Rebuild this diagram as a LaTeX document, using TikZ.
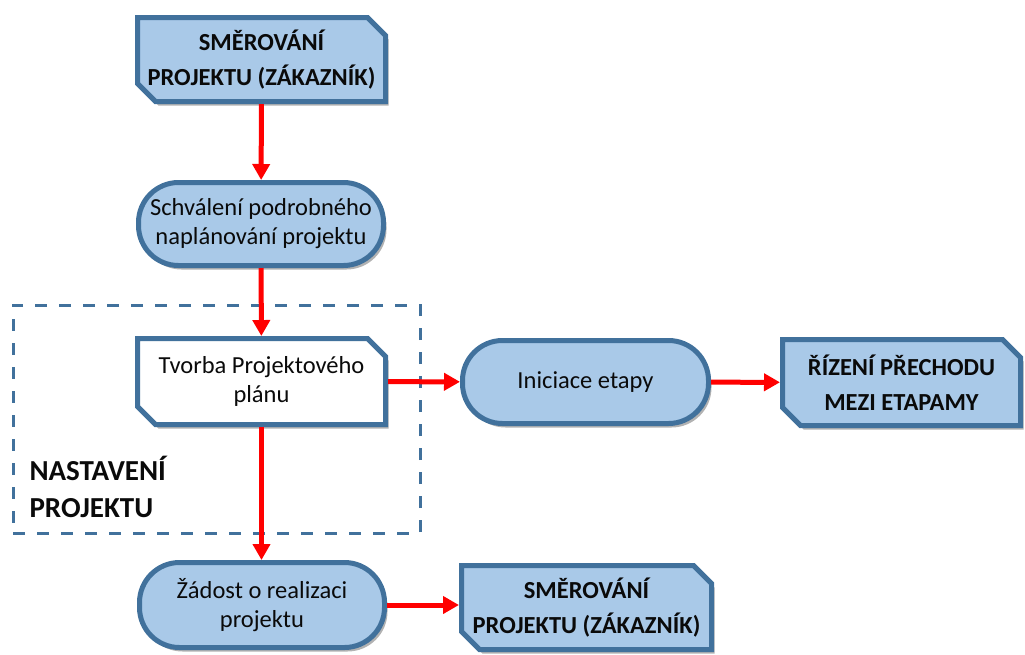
\documentclass[tikz,border=0pt]{standalone}
\usepackage{fontspec}
\setmainfont{Carlito}
\usetikzlibrary{shapes.misc,arrows.meta,shadows}
\definecolor{bord}{HTML}{41719C}
\definecolor{fillb}{HTML}{A9C9E8}
\definecolor{txt}{HTML}{0A0A0A}
\begin{document}
\begin{tikzpicture}[x=1pt,y=-1pt,
  shad/.style={drop shadow={shadow xshift=3pt,shadow yshift=-4pt,opacity=0.3,fill=black}},
  chbox/.style={chamfered rectangle, chamfered rectangle corners={north east,south west},
    chamfered rectangle xsep=9pt, chamfered rectangle ysep=9pt,
    draw=bord, line width=5pt, fill=fillb, align=center, inner sep=0pt,
    font=\fontsize{24.5}{35}\selectfont\bfseries, text=txt, shad},
  rbox/.style={rectangle, rounded corners=40pt, draw=bord, line width=5pt, fill=fillb,
    align=center, inner sep=0pt, font=\fontsize{24.5}{29}\selectfont, text=txt, shad},
  arr/.style={draw=red, line width=5pt, -{Triangle[width=17pt,length=16pt]}},
]
\useasboundingbox (0,0) rectangle (1025,654);
\node[draw=bord, line width=3pt, dash pattern=on 12pt off 12pt, minimum width=407pt, minimum height=228pt] (frame) at (216.5,419) {};
\node[chbox, minimum width=248pt, minimum height=84pt] (top) at (261.5,59.5) {SMĚROVÁNÍ\\PROJEKTU (ZÁKAZNÍK)};
\node[rbox, minimum width=245pt, minimum height=83pt] (schv) at (261,224) {Schválení podrobného\\naplánování projektu};
\node[chbox, fill=white, font=\fontsize{24.5}{29}\selectfont\mdseries, minimum width=248pt, minimum height=86pt] (tvorba) at (261.5,381.5) {Tvorba Projektového\\plánu};
\node[rbox, minimum width=246pt, minimum height=83pt] (inic) at (585.5,382) {Iniciace etapy};
\node[chbox, minimum width=238pt, minimum height=86pt] (rizeni) at (901.5,382.5) {ŘÍZENÍ PŘECHODU\\MEZI ETAPAMY};
\node[rbox, minimum width=245pt, minimum height=85pt] (zadost) at (262,605) {Žádost o realizaci\\projektu};
\node[chbox, minimum width=250pt, minimum height=84pt] (smer2) at (586.5,607.5) {SMĚROVÁNÍ\\PROJEKTU (ZÁKAZNÍK)};
\node[anchor=west, align=left, font=\fontsize{29}{37}\selectfont\bfseries, text=txt] (lbl) at (26,487) {NASTAVENÍ\\PROJEKTU};
\draw[arr] (top) -- (schv);
\draw[arr] (schv) -- (tvorba);
\draw[arr] (tvorba) -- (inic);
\draw[arr] (inic) -- (rizeni);
\draw[arr] (tvorba.south) -- (tvorba.south |- zadost.north);
\draw[arr] (zadost) -- (zadost -| smer2.west);
\end{tikzpicture}
\end{document}
